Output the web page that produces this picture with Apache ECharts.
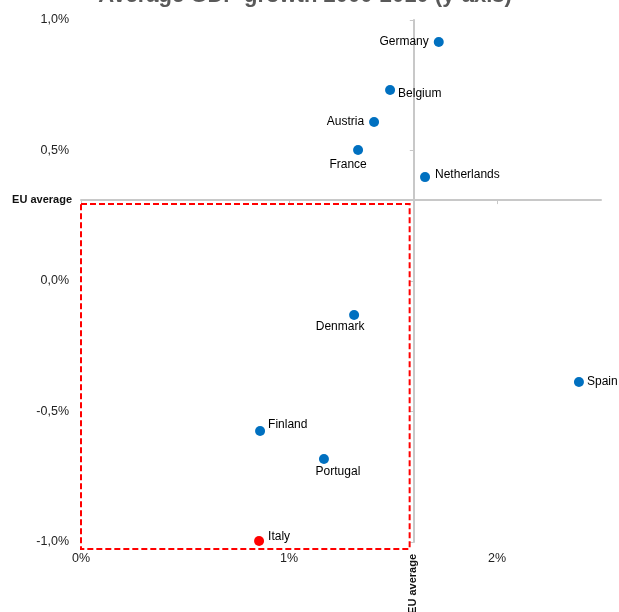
<!DOCTYPE html>
<html>
<head>
<meta charset="utf-8">
<script src="https://cdn.jsdelivr.net/npm/echarts@6/dist/echarts.min.js"></script>
<style>html,body{margin:0;padding:0;background:#fff}#c{width:619px;height:612px}</style>
</head>
<body>
<div id="c"></div>
<script>
// ---- data ----
var countries = ['Germany','Belgium','Austria','France','Netherlands','Denmark','Spain','Finland','Portugal','Italy'];
var xValues   = [1.72, 1.486, 1.409, 1.332, 1.654, 1.313, 2.394, 0.861, 1.168, 0.856];
var yValues   = [0.916, 0.732, 0.609, 0.502, 0.398, -0.130, -0.387, -0.575, -0.682, -0.996];
var highlighted = ['Italy'];
var euAverageX = 1.60;
var euAverageY = 0.31;
var boxX = [0, 1.58];
var boxY = [-1.027, 0.295];
var xTicks = [0, 1, 2];
var yTicks = [-1.0, -0.5, 0, 0.5, 1.0];
var titleText = 'Average GDP growth 2000-2010 (y-axis)';
var euLabel = 'EU average';

// ---- layout / style ----
var X_MIN = 0, X_MAX = 2.5, Y_MIN = -1, Y_MAX = 1;
var G = {left: 81, right: 18, top: 20, bottom: 70};
var W = 619, H = 612;
var gw = W - G.left - G.right, gh = H - G.top - G.bottom;
var labelPlace = {
  Germany:    {position: 'left',   offset: [0, 0]},
  Belgium:    {position: 'right',  offset: [-2, 4]},
  Austria:    {position: 'left',   offset: [0, 0]},
  France:     {position: 'bottom', offset: [-10, -1]},
  Netherlands:{position: 'right',  offset: [0, -2]},
  Denmark:    {position: 'bottom', offset: [-14, -4]},
  Spain:      {position: 'right',  offset: [-2, 0]},
  Finland:    {position: 'right',  offset: [-2, -6]},
  Portugal:   {position: 'bottom', offset: [14, -3]},
  Italy:      {position: 'right',  offset: [-1, -4]}
};
var FONT = 'Liberation Sans, Arial, sans-serif';
function fmtY(v){ return v.toFixed(1).replace('.', ',') + '%'; }

var points = countries.map(function(name, i){
  var hl = highlighted.indexOf(name) >= 0;
  return {
    name: name,
    value: [xValues[i], yValues[i]],
    itemStyle: {color: hl ? '#FF0000' : '#0070C0', opacity: 1},
    label: {show: true, formatter: name, position: labelPlace[name].position,
            offset: labelPlace[name].offset, distance: 5,
            color: '#000', fontSize: 12, fontFamily: FONT}
  };
});

var offY = gh * (euAverageY - Y_MIN) / (Y_MAX - Y_MIN);
var offX = gw * (euAverageX - X_MIN) / (X_MAX - X_MIN);

var chart = echarts.init(document.getElementById('c'), null, {renderer: 'canvas'});
chart.setOption({
  animation: false,
  backgroundColor: '#fff',
  title: {text: titleText, left: 300, textAlign: 'center', top: -20,
          textStyle: {fontFamily: FONT, fontSize: 22, fontWeight: 'bold', color: '#595959'}},
  grid: {left: G.left, right: G.right, top: G.top, bottom: G.bottom},
  xAxis: [{
    type: 'value', min: X_MIN, max: X_MAX, interval: 1, position: 'bottom',
    axisLine: {show: false}, axisTick: {show: false}, splitLine: {show: false},
    axisLabel: {margin: 10, fontSize: 12.5, fontFamily: FONT, color: '#222',
      formatter: function(v){ return xTicks.indexOf(v) >= 0 ? v + '%' : ''; }}
  }, {
    type: 'value', min: X_MIN, max: X_MAX, interval: 1, position: 'bottom', offset: -offY,
    axisLine: {show: true, onZero: false, lineStyle: {color: '#c8c8c8', width: 2}},
    axisTick: {show: true, length: 4, customValues: xTicks, lineStyle: {color: '#c8c8c8'}},
    axisLabel: {show: false}, splitLine: {show: false}
  }],
  yAxis: [{
    type: 'value', min: Y_MIN, max: Y_MAX, interval: 0.5, position: 'left',
    axisLine: {show: false}, axisTick: {show: false}, splitLine: {show: false},
    axisLabel: {margin: 12, fontSize: 12.5, fontFamily: FONT, color: '#222',
      formatter: function(v){ return yTicks.indexOf(v) >= 0 ? fmtY(v) : ''; }}
  }, {
    type: 'value', min: Y_MIN, max: Y_MAX, interval: 0.5, position: 'left', offset: -offX,
    axisLine: {show: true, onZero: false, lineStyle: {color: '#c8c8c8', width: 2}},
    axisTick: {show: true, length: 4, customValues: yTicks, lineStyle: {color: '#c8c8c8'}},
    axisLabel: {show: false}, splitLine: {show: false}
  }],
  series: [{
    type: 'scatter', xAxisIndex: 0, yAxisIndex: 0, symbolSize: 10, clip: false,
    data: points
  }]
});

var pLeft = chart.convertToPixel({gridIndex: 0}, [X_MIN, euAverageY]);
var pBot = chart.convertToPixel({gridIndex: 0}, [euAverageX, Y_MIN]);
var b0 = chart.convertToPixel({gridIndex: 0}, [boxX[0], boxY[1]]);
var b1 = chart.convertToPixel({gridIndex: 0}, [boxX[1], boxY[0]]);
chart.setOption({
  graphic: [{
    type: 'rect', z: 1,
    shape: {x: b0[0], y: b0[1], width: b1[0] - b0[0], height: b1[1] - b0[1]},
    style: {fill: 'none', stroke: '#FF0000', lineWidth: 2, lineDash: [6, 3]}
  }, {
    type: 'text', x: pLeft[0] - 9, y: pLeft[1],
    style: {text: euLabel, font: 'bold 11px ' + FONT, fill: '#111', align: 'right', verticalAlign: 'middle'}
  }, {
    type: 'text', x: pBot[0] - 1, y: pBot[1] + 12, rotation: Math.PI / 2,
    style: {text: euLabel, font: 'bold 11px ' + FONT, fill: '#111', align: 'right', verticalAlign: 'middle'}
  }]
});
</script>
</body>
</html>
